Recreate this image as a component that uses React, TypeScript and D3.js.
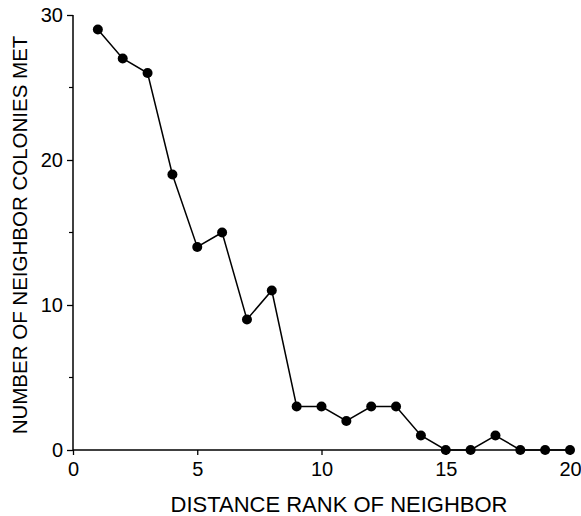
import { useEffect, useRef } from "react";
import * as d3 from "d3";

const ranks = [1, 2, 3, 4, 5, 6, 7, 8, 9, 10, 11, 12, 13, 14, 15, 16, 17, 18, 19, 20];
const colonies = [29, 27, 26, 19, 14, 15, 9, 11, 3, 3, 2, 3, 3, 1, 0, 0, 1, 0, 0, 0];
const xTicks = [0, 5, 10, 15, 20];
const yTicks = [0, 10, 20, 30];
const yMinorTicks = [5, 15, 25];

const App = () => {
  const ref = useRef<SVGSVGElement>(null);

  useEffect(() => {
    const svg = d3.select(ref.current);
    svg.selectAll("*").remove();

    const width = 581,
      height = 516;
    const margin = { top: 15, right: 11, bottom: 66, left: 73 };
    const font = "'Liberation Sans', Arial, Helvetica, sans-serif";

    const x = d3.scaleLinear().domain([0, 20]).range([margin.left, width - margin.right]);
    const y = d3.scaleLinear().domain([0, 30]).range([height - margin.bottom, margin.top]);

    const g = svg.append("g");

    // y axis
    const yAxis = g
      .append("g")
      .attr("transform", `translate(${margin.left},0)`)
      .call(d3.axisLeft(y).tickValues(yTicks).tickSize(6).tickPadding(4).tickFormat(d3.format("d")));
    yAxis.select(".domain").attr("stroke-width", 1.5).attr("d", `M0,${y(0)}V${y(30)}`);
    yAxis.selectAll(".tick line").attr("stroke-width", 1.3);
    yAxis.selectAll(".tick text").attr("font-size", 20).attr("font-family", font).attr("fill", "#000");

    g.append("g")
      .selectAll("line")
      .data(yMinorTicks)
      .enter()
      .append("line")
      .attr("x1", margin.left - 4)
      .attr("x2", margin.left)
      .attr("y1", (d) => y(d))
      .attr("y2", (d) => y(d))
      .attr("stroke", "#000")
      .attr("stroke-width", 1.2);

    // x axis
    const xAxis = g
      .append("g")
      .attr("transform", `translate(0,${y(0)})`)
      .call(d3.axisBottom(x).tickValues(xTicks).tickSize(5).tickPadding(7).tickFormat(d3.format("d")));
    xAxis.select(".domain").attr("stroke-width", 1.5).attr("d", `M${x(0)},0H${x(20)}`);
    xAxis.selectAll(".tick line").attr("stroke-width", 1.3);
    xAxis.selectAll(".tick text").attr("font-size", 20).attr("font-family", font).attr("fill", "#000");

    // axis titles
    svg
      .append("text")
      .attr("x", 339)
      .attr("y", 512)
      .attr("text-anchor", "middle")
      .attr("font-size", 22)
      .attr("font-family", font)
      .text("DISTANCE RANK OF NEIGHBOR");

    svg
      .append("text")
      .attr("transform", `translate(27,235) rotate(-90)`)
      .attr("text-anchor", "middle")
      .attr("font-size", 20.5)
      .attr("font-family", font)
      .text("NUMBER OF NEIGHBOR COLONIES MET");

    const data = ranks.map((r, i) => ({ r, v: colonies[i] }));

    const line = d3
      .line<{ r: number; v: number }>()
      .x((d) => x(d.r))
      .y((d) => y(d.v));

    g.append("path")
      .datum(data)
      .attr("d", line)
      .attr("fill", "none")
      .attr("stroke", "#000")
      .attr("stroke-width", 1.5);

    g.append("g")
      .selectAll("circle")
      .data(data)
      .enter()
      .append("circle")
      .attr("cx", (d) => x(d.r))
      .attr("cy", (d) => y(d.v))
      .attr("r", 5)
      .attr("fill", "#000");
  }, []);

  return (
    <svg
      ref={ref}
      width={581}
      height={516}
      style={{ position: "absolute", left: 0, top: 0, background: "#fff" }}
    />
  );
};

export default App;
